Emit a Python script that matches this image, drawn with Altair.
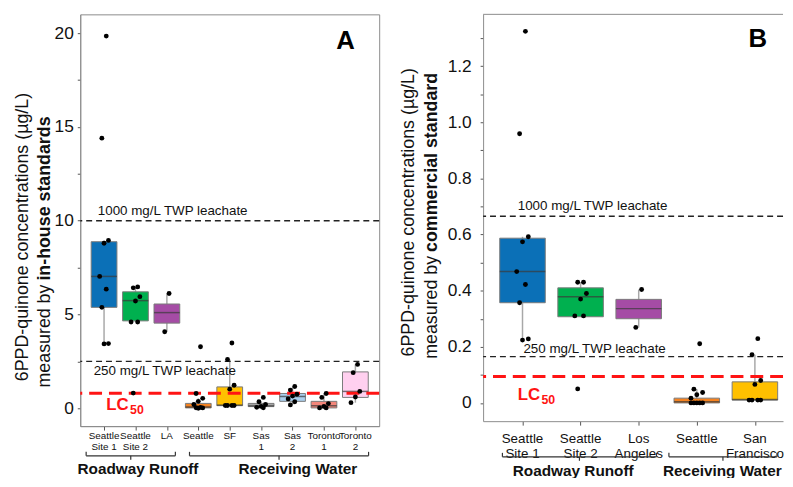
import altair as alt
import pandas as pd

FONT = "Liberation Sans"
FRAME = "#8c8c8c"

# ---------------- Panel A : in-house standards ----------------
a_sites = ["Seattle Site 1", "Seattle Site 2", "LA", "Seattle", "SF",
           "Sas 1", "Sas 2", "Toronto 1", "Toronto 2"]
a_labels = ["Seattle\nSite 1", "Seattle\nSite 2", "LA", "Seattle", "SF",
            "Sas\n1", "Sas\n2", "Toronto\n1", "Toronto\n2"]
a_colors = ["#0b70b7", "#00b04f", "#a54ca5", "#f58220", "#ffc000",
            "#a6a6a6", "#a9cfee", "#f4867a", "#ffd0ef"]
a_q1 = [5.38, 4.66, 4.54, 0.02, 0.14, 0.09, 0.37, 0.02, 0.58]
a_med = [7.03, 5.74, 5.10, 0.07, 0.17, 0.13, 0.63, 0.14, 0.90]
a_q3 = [8.88, 6.21, 5.56, 0.26, 1.14, 0.26, 0.79, 0.37, 1.94]
a_lo = [3.43, 4.60, 4.08, 0.00, 0.14, 0.03, 0.18, 0.02, 0.30]
a_hi = [8.95, 6.47, 6.12, 0.53, 2.60, 0.35, 1.16, 0.79, 2.34]
a_points = [
    [19.84, 14.4, 8.95, 8.8, 7.03, 6.35, 5.38, 3.45, 3.43],
    [6.47, 6.42, 5.95, 5.72, 4.6, 4.6, 0.81],
    [6.12, 4.08],
    [3.28, 0.79, 0.53, 0.37, 0.2, 0.05, 0.03, 0.02, 0.0],
    [3.48, 2.6, 1.23, 1.02, 0.15, 0.15, 0.15, 0.15],
    [0.58, 0.35, 0.2, 0.1, 0.05, 0.03],
    [1.16, 0.97, 0.75, 0.65, 0.5, 0.35, 0.18],
    [0.79, 0.58, 0.25, 0.1, 0.02, 0.02],
    [2.34, 1.9, 0.9, 0.6, 0.3],
]
a_ref_values = [10, 2.5]
a_ref_texts = ["1000 mg/L TWP leachate", "250 mg/L TWP leachate"]
a_lc50 = 0.8

# ---------------- Panel B : commercial standard ----------------
b_sites = ["Seattle Site 1", "Seattle Site 2", "Los Angeles", "Seattle", "San Francisco"]
b_labels = ["Seattle\nSite 1", "Seattle\nSite 2", "Los\nAngeles", "Seattle", "San\nFrancisco"]
b_colors = ["#0b70b7", "#00b04f", "#a54ca5", "#f58220", "#ffc000"]
b_q1 = [0.357, 0.307, 0.300, 0.000, 0.010]
b_med = [0.468, 0.378, 0.336, 0.004, 0.012]
b_q3 = [0.587, 0.410, 0.369, 0.017, 0.075]
b_lo = [0.224, 0.307, 0.269, 0.000, 0.010]
b_hi = [0.592, 0.430, 0.404, 0.049, 0.172]
b_points = [
    [1.324, 0.959, 0.592, 0.574, 0.468, 0.422, 0.357, 0.228, 0.224],
    [0.43, 0.43, 0.39, 0.37, 0.31, 0.31, 0.05],
    [0.404, 0.269],
    [0.211, 0.049, 0.037, 0.029, 0.017, 0.0, 0.0, 0.0, 0.0, 0.0],
    [0.229, 0.172, 0.08, 0.066, 0.01, 0.01, 0.01, 0.01],
]
b_ref_values = [0.665, 0.165]
b_ref_texts = ["1000 mg/L TWP leachate", "250 mg/L TWP leachate"]
b_lc50 = 0.094

groups = ["Roadway Runoff", "Receiving Water"]


def panel(cfg):
    sites, W, H = cfg["sites"], cfg["W"], cfg["H"]
    pos = list(range(1, len(sites) + 1))
    box = pd.DataFrame({"site": sites, "pos": pos, "label": cfg["labels"],
                        "q1": cfg["q1"], "med": cfg["med"], "q3": cfg["q3"],
                        "lo": cfg["lo"], "hi": cfg["hi"]})
    rows = []
    for s, p, vals in zip(sites, pos, cfg["points"]):
        for v in vals:
            rows.append({"site": s, "pos": p, "value": v})
    pts = pd.DataFrame(rows)

    xscale = alt.Scale(domain=cfg["xdom"], nice=False, zero=False)
    yscale = alt.Scale(domain=cfg["ydom"], nice=False, zero=False)
    xaxis = alt.Axis(values=pos, labels=False, ticks=True, tickSize=4, tickColor="#555",
                     domainColor=FRAME, grid=False, title=None)
    yaxis = alt.Axis(values=cfg["yvals"], labelExpr=cfg["ylab"], tickSize=cfg["ytick"],
                     tickColor="#555", labelFontSize=cfg["yfs"], labelFont=FONT, labelColor="#111",
                     labelPadding=cfg["ypad"], domainColor=FRAME, grid=False, title=None)

    def X(f):
        return alt.X(f, scale=xscale, axis=xaxis)

    def Y(f):
        return alt.Y(f, scale=yscale, axis=yaxis)

    color = alt.Color("site:N", scale=alt.Scale(domain=sites, range=cfg["colors"]), legend=None)

    base = alt.Chart(box)
    whisk = base.mark_rule(color="#a8a8a8", strokeWidth=1.5).encode(
        x=X("pos:Q"), y=Y("lo:Q"), y2="hi:Q")
    bars = base.mark_bar(width=cfg["bw"], stroke="#7a7a7a", strokeWidth=1).encode(
        x=X("pos:Q"), y=Y("q1:Q"), y2="q3:Q", color=color)
    meds = base.mark_tick(orient="horizontal", size=cfg["bw"], thickness=1.5, color="#3a3a3a").encode(
        x=X("pos:Q"), y=Y("med:Q"))
    dots = alt.Chart(pts).transform_window(
        idx="row_number()", groupby=["site"]
    ).transform_calculate(
        xj=f"datum.pos + ((datum.idx * 3) % 5 - 2) * {cfg['jit']}"
    ).mark_circle(size=24, color="black", opacity=1).encode(
        x=X("xj:Q"), y=Y("value:Q"))

    refs = pd.DataFrame({"v": cfg["refs"], "t": cfg["ref_texts"], "x": cfg["ref_x"]})
    ref_rule = alt.Chart(refs).mark_rule(color="#222", strokeDash=[6, 4], strokeWidth=1.4).encode(
        y=Y("v:Q"))
    t1 = alt.Chart(refs.iloc[[0]]).mark_text(align="left", baseline="bottom", dy=-3,
                                             fontSize=13.5, font=FONT, color="#111").encode(
        x=X("x:Q"), y=Y("v:Q"), text="t:N")
    t2 = alt.Chart(refs.iloc[[1]]).mark_text(align="left", baseline=cfg["t2_base"], dy=cfg["t2_dy"],
                                             fontSize=13.5, font=FONT, color="#111").encode(
        x=X("x:Q"), y=Y("v:Q"), text="t:N")

    lc = pd.DataFrame({"v": [cfg["lc50"]], "x": [cfg["lc_x"]], "a": ["LC"], "b": ["50"]})
    lc_rule = alt.Chart(lc).mark_rule(color="#ff1414", strokeDash=[13, 7], strokeWidth=3).encode(
        y=Y("v:Q"))
    lc_a = alt.Chart(lc).mark_text(align="left", baseline="middle", dy=cfg["lc_dy"], fontSize=17,
                                   fontWeight="bold", font=FONT, color="#ff1414").encode(
        x=X("x:Q"), y=Y("v:Q"), text="a:N")
    lc_b = alt.Chart(lc).mark_text(align="left", baseline="middle", dx=24, dy=cfg["lc_dy"] + 5,
                                   fontSize=12.5, fontWeight="bold", font=FONT, color="#ff1414").encode(
        x=X("x:Q"), y=Y("v:Q"), text="b:N")

    catlab = base.mark_text(baseline=cfg["cat_base"], lineBreak="\n", fontSize=cfg["cat_fs"],
                            lineHeight=cfg["cat_lh"], font=FONT, color="#111").encode(
        x=X("pos:Q"), y=alt.value(H + cfg["cat_dy"]), text="label:N")

    grp = pd.DataFrame({"g": groups, "x1": cfg["g_from"], "x2": cfg["g_to"],
                        "xm": [(a + b) / 2 for a, b in zip(cfg["g_from"], cfg["g_to"])],
                        "xt": cfg["g_text"]})
    gy = H + cfg["br_dy"]
    gbase = alt.Chart(grp)
    br_h = gbase.mark_rule(color="#333", strokeWidth=1.2).encode(
        x=X("x1:Q"), x2="x2:Q", y=alt.value(gy))
    br_l = gbase.mark_rule(color="#333", strokeWidth=1.2).encode(
        x=X("x1:Q"), y=alt.value(gy - 4), y2=alt.value(gy))
    br_r = gbase.mark_rule(color="#333", strokeWidth=1.2).encode(
        x=X("x2:Q"), y=alt.value(gy - 4), y2=alt.value(gy))
    br_m = gbase.mark_rule(color="#333", strokeWidth=1.2).encode(
        x=X("xm:Q"), y=alt.value(gy), y2=alt.value(gy + 4))
    gtext = gbase.mark_text(baseline="middle", fontSize=15.5, fontWeight="bold", font=FONT,
                            color="#111").encode(
        x=X("xt:Q"), y=alt.value(H + cfg["gt_dy"]), text="g:N")

    ann = pd.DataFrame({"t": [cfg["letter"]], "x": [cfg["letter_x"]]})
    letter = alt.Chart(ann).mark_text(baseline="middle", fontSize=26, fontWeight="bold", font=FONT,
                                      color="black").encode(
        x=X("x:Q"), y=alt.value(cfg["letter_y"]), text="t:N")

    tl = pd.DataFrame({"t1": ["6PPD-quinone concentrations (\u00b5g/L)"],
                       "t2": ["measured by"], "t3": [cfg["bold"]]})
    tb = alt.Chart(tl)
    ttl1 = tb.mark_text(angle=270, align="center", baseline="middle", fontSize=cfg["tfs"], font=FONT,
                        color="#111").encode(x=alt.value(cfg["tx1"]), y=alt.value(cfg["ty1"]), text="t1:N")
    ttl2 = tb.mark_text(angle=270, align="right", baseline="middle", fontSize=cfg["tfs"], font=FONT,
                        color="#111").encode(x=alt.value(cfg["tx2"]), y=alt.value(cfg["tj"] + 4), text="t2:N")
    ttl3 = tb.mark_text(angle=270, align="left", baseline="middle", fontSize=cfg["tfs"], font=FONT,
                        fontWeight="bold", color="#111").encode(
        x=alt.value(cfg["tx2"]), y=alt.value(cfg["tj"]), text="t3:N")

    layers = [whisk, bars, meds, ref_rule, lc_rule, dots, t1, t2, lc_a, lc_b, catlab,
              br_h, br_l, br_r, br_m, gtext, letter, ttl1, ttl2, ttl3]
    if cfg.get("topline"):
        layers.append(alt.Chart(ann).mark_rule(color=FRAME, strokeWidth=1).encode(
            x=alt.value(0), x2=alt.value(W), y=alt.value(0)))
    ch = alt.layer(*layers).properties(width=W, height=H)
    if cfg.get("nostroke"):
        ch = ch.properties(view=alt.ViewBackground(stroke="transparent"))
    return ch


cfgA = dict(sites=a_sites, labels=a_labels, colors=a_colors, q1=a_q1, med=a_med, q3=a_q3,
            lo=a_lo, hi=a_hi, points=a_points, refs=a_ref_values, ref_texts=a_ref_texts,
            ref_x=[0.80, 0.67], t2_base="top", t2_dy=3, lc50=a_lc50, lc_x=1.07, lc_dy=12,
            W=302, H=416, xdom=[0.4, 9.6], ydom=[-0.95, 21.0],
            yvals=[0, 2.5, 5, 7.5, 10, 12.5, 15, 17.5, 20],
            ylab="datum.value % 5 == 0 ? datum.label : ''", yfs=17.5, ytick=3, ypad=4,
            bw=26, jit=0.07, cat_base="top", cat_dy=5, cat_fs=10, cat_lh=11,
            g_from=[0.43, 3.72], g_to=[3.27, 9.42], g_text=[2.08, 7.17], br_dy=30, gt_dy=43,
            letter="A", letter_x=8.69, letter_y=27,
            bold="in-house standards", tfs=18, tx1=-58, ty1=225, tx2=-36, tj=269)

cfgB = dict(sites=b_sites, labels=b_labels, colors=b_colors, q1=b_q1, med=b_med, q3=b_q3,
            lo=b_lo, hi=b_hi, points=b_points, refs=b_ref_values, ref_texts=b_ref_texts,
            ref_x=[0.918, 1.016], t2_base="bottom", t2_dy=-1, lc50=b_lc50, lc_x=0.918, lc_dy=19,
            W=303, H=411, xdom=[0.407, 5.399], ydom=[-0.065, 1.3845],
            yvals=[0, 0.1, 0.2, 0.3, 0.4, 0.5, 0.6, 0.7, 0.8, 0.9, 1.0, 1.1, 1.2, 1.3],
            ylab="round(datum.value * 10) % 2 == 0 ? (datum.value == 0 ? '0' : format(datum.value, '.1f')) : ''",
            yfs=17.5, ytick=3, ypad=9, bw=46, jit=0.05, cat_base="middle", cat_dy=18,
            cat_fs=13.5, cat_lh=15,
            g_from=[0.654, 3.52], g_to=[3.306, 5.38], g_text=[1.873, 4.44], br_dy=36, gt_dy=50,
            letter="B", letter_x=5.05, letter_y=25,
            bold="commercial standard", tfs=18, tx1=-75, ty1=200, tx2=-52, tj=240,
            topline=True, nostroke=True)

chart = alt.hconcat(panel(cfgA), panel(cfgB), spacing=18).resolve_scale(
    x="independent", y="independent", color="independent"
).properties(
    padding={"left": 5, "top": 3, "right": 0, "bottom": -4}
).configure_view(stroke=FRAME, strokeWidth=1).configure_axis(labelFont=FONT)

chart.save("out.html", embed_options={"renderer": "svg", "actions": False})
